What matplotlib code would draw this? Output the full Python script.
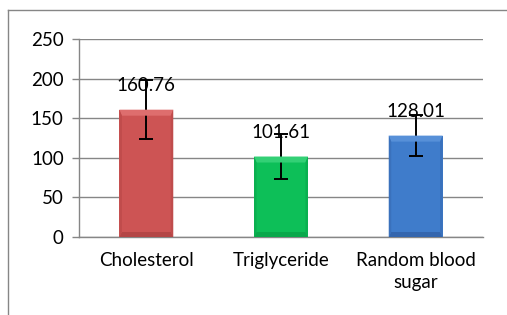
import matplotlib
matplotlib.use("Agg")
import matplotlib.pyplot as plt
from matplotlib.lines import Line2D
from matplotlib.patches import Polygon
import numpy as np

categories = ["Cholesterol", "Triglyceride", "Random blood\nsugar"]
means = [160.76, 101.61, 128.01]
errors = [37.0, 28.5, 25.5]
labels = ["160.76", "101.61", "128.01"]
yticks = [0, 50, 100, 150, 200, 250]
colors = ["#CD5454", "#0DBF58", "#3F7CCB"]
top_colors = ["#DE6E6E", "#33D075", "#5790D8"]
side_colors = ["#C04C4C", "#0AB050", "#3A71BC"]
bottom_colors = ["#B44646", "#09A84B", "#3466AE"]

plt.rcParams['font.family'] = ['Lato', 'DejaVu Sans']

W, H = 507, 315
fig = plt.figure(figsize=(W/100, H/100), dpi=100)
ax = fig.add_axes([79/W, 1-237/H, (483-79)/W, (237-39)/H])

x = np.arange(len(categories))
ax.set_xlim(-0.5, len(categories)-0.5)
ax.set_ylim(0, 250)
bars = ax.bar(x, means, width=0.4, color=colors, edgecolor='none', zorder=3)

# bevel shading (in display pixels, derived from each bar's extent)
fig.canvas.draw()
bt, bb, bs = 6, 5, 2.5
for rect, tc, sc, bc in zip(bars, top_colors, side_colors, bottom_colors):
    e = rect.get_window_extent()
    x0, x1, y0, y1 = e.x0, e.x1, e.y0, e.y1
    polys = [
        ([(x0, y1), (x1, y1), (x1 - bs, y1 - bt), (x0 + bs, y1 - bt)], tc),
        ([(x0, y0), (x1, y0), (x1 - bs, y0 + bb), (x0 + bs, y0 + bb)], bc),
        ([(x0, y0), (x0 + bs, y0 + bb), (x0 + bs, y1 - bt), (x0, y1)], sc),
        ([(x1, y0), (x1 - bs, y0 + bb), (x1 - bs, y1 - bt), (x1, y1)], sc),
    ]
    for pts, c in polys:
        p = Polygon(pts, closed=True, facecolor=c, edgecolor='none',
                    transform=None, zorder=3.5, clip_on=False)
        fig.add_artist(p)

ax.errorbar(x, means, yerr=errors, fmt='none', ecolor='black', elinewidth=1.4,
            capsize=4.7, capthick=1.4, zorder=4)
for xi, m, lab in zip(x, means, labels):
    ax.annotate(lab, (xi, m), xytext=(0, 17.5), textcoords='offset points',
                ha='center', va='center', fontsize=13.5, color='black', zorder=5)

ax.set_yticks(yticks)
ax.set_xticks(x)
ax.set_xticklabels(categories, fontsize=13.5, linespacing=1.35)
ax.tick_params(axis='y', length=5, color='#868686', width=1, labelsize=13.5, pad=6)
ax.tick_params(axis='x', length=0, pad=11)
ax.grid(axis='y', color='#868686', linewidth=1, zorder=0)
ax.set_axisbelow(True)
for s in ['top', 'right']:
    ax.spines[s].set_visible(False)
for s in ['left', 'bottom']:
    ax.spines[s].set_color('#868686')
    ax.spines[s].set_linewidth(1)

# outer chart frame (extends beyond image right/bottom)
fig.add_artist(Line2D([8/W, 8/W], [0, 1-10/H], color='#868686', linewidth=1,
                      transform=fig.transFigure))
fig.add_artist(Line2D([8/W, 1], [1-10/H, 1-10/H], color='#868686', linewidth=1,
                      transform=fig.transFigure))

fig.savefig("out.png", dpi=100)
